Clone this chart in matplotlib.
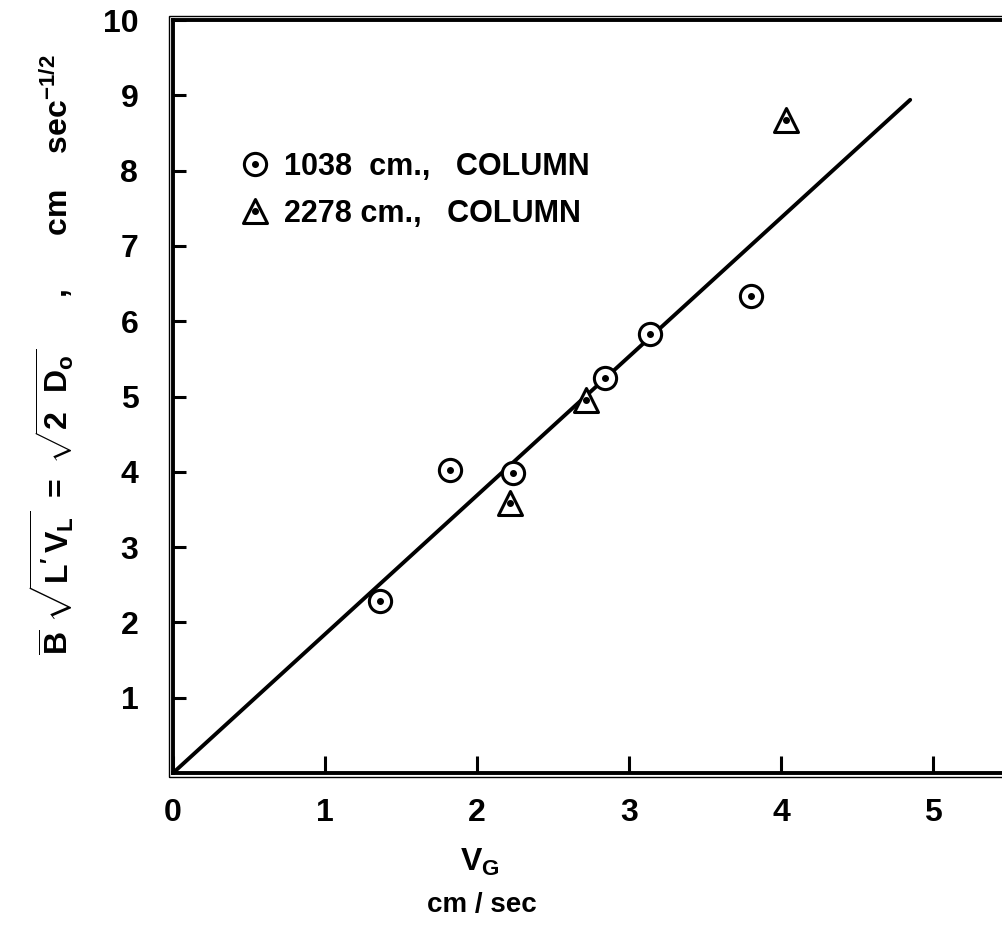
import matplotlib
matplotlib.use("Agg")
import matplotlib.pyplot as plt
from matplotlib.patches import Rectangle
from matplotlib.markers import MarkerStyle

# ---- data ----
vg_1038 = [1.36, 1.82, 2.24, 2.84, 3.14, 3.80]
b_1038 = [2.28, 4.02, 3.98, 5.25, 5.83, 6.34]
vg_2278 = [2.22, 2.72, 4.03]
b_2278 = [3.58, 4.96, 8.67]
fit_x = [0.0, 4.85]
fit_y = [0.0, 8.94]
x_ticks = [0, 1, 2, 3, 4, 5]
x_tick_labels = ["0", "1", "2", "3", "4", "5"]
y_ticks = [1, 2, 3, 4, 5, 6, 7, 8, 9, 10]
y_tick_labels = ["1", "2", "3", "4", "5", "6", "7", "8", "9", "10"]
legend_labels = ["1038  cm.,   COLUMN", "2278 cm.,   COLUMN"]

plt.rcParams['font.family'] = ['Liberation Sans', 'DejaVu Sans']
plt.rcParams['font.weight'] = 'bold'
plt.rcParams['mathtext.fontset'] = 'custom'
plt.rcParams['mathtext.rm'] = 'Liberation Sans:bold'
plt.rcParams['mathtext.it'] = 'Liberation Sans:bold'
plt.rcParams['mathtext.bf'] = 'Liberation Sans:bold'

W, H = 1002, 935
fig = plt.figure(figsize=(W / 100, H / 100), dpi=100)
x0px, y0px = 173, 773
xppu, yppu = 152.0, 75.3
xmax = 5.5
ax = fig.add_axes([x0px / W, 1 - y0px / H, xmax * xppu / W, 10 * yppu / H])
ax.set_xlim(0, xmax)
ax.set_ylim(0, 10)

# fit line
ax.plot(fit_x, fit_y, color='black', lw=2.8, solid_capstyle='round', zorder=2)

tri = MarkerStyle('^', joinstyle='round')
# 1038 cm column: circles with dot
c1, = ax.plot(vg_1038, b_1038, linestyle='none', marker='o', markersize=16,
              mfc='white', mec='black', mew=2.2, zorder=3)
c2, = ax.plot(vg_1038, b_1038, linestyle='none', marker='o', markersize=4,
              mfc='black', mec='black', zorder=4)
# 2278 cm column: triangles with dot
t1, = ax.plot(vg_2278, b_2278, linestyle='none', marker=tri, markersize=17,
              mfc='white', mec='black', mew=2.2, zorder=3)
t2, = ax.plot(vg_2278, b_2278, linestyle='none', marker='o', markersize=4,
              mfc='black', mec='black', zorder=4)

leg = ax.legend([(c1, c2), (t1, t2)], legend_labels, loc='upper left',
                bbox_to_anchor=((240 - x0px) / (xmax * xppu), (773 - 152) / (10 * yppu)),
                frameon=False, fontsize=22, borderpad=0,
                handlelength=1.0, handletextpad=0.45, labelspacing=0.55,
                borderaxespad=0)

# spines / ticks
for s in ax.spines.values():
    s.set_linewidth(2.8)
ax.set_xticks(x_ticks)
ax.set_xticklabels(x_tick_labels)
ax.set_yticks(y_ticks)
ax.set_yticklabels(y_tick_labels)
ax.tick_params(axis='x', direction='in', length=12, width=2.2, pad=18, labelsize=23)
ax.tick_params(axis='y', direction='in', length=9, width=2.2, pad=25, labelsize=23)
for lab in ax.get_xticklabels() + ax.get_yticklabels():
    lab.set_fontweight('bold')

# outer thin frame line (double-line border look)
off = 4
fig.patches.append(Rectangle(((x0px - off) / W, 1 - (y0px + off) / H),
                             (xmax * xppu + 2 * off) / W, (10 * yppu + 2 * off) / H,
                             transform=fig.transFigure, fill=False, lw=1.0,
                             ec='black'))

# axis labels
fig.text(480 / W, 1 - 862 / H, r'V$_\mathrm{G}$', ha='center', va='center',
         fontsize=23, fontweight='bold')
fig.text(482 / W, 1 - 905 / H, 'cm / sec', ha='center', va='center',
         fontsize=20, fontweight='bold')
fig.text(52 / W, 1 - 355 / H,
         r'$\overline{\mathrm{B}}\ \sqrt{\mathrm{L^{\prime}\,V_L}}\ =\ \sqrt{2\ \ \mathrm{D_o}}$'
         r'      ,      cm    sec$^{-1/2}$',
         rotation=90, ha='center', va='center', fontsize=23, fontweight='bold')

fig.savefig('out.png', dpi=100)
